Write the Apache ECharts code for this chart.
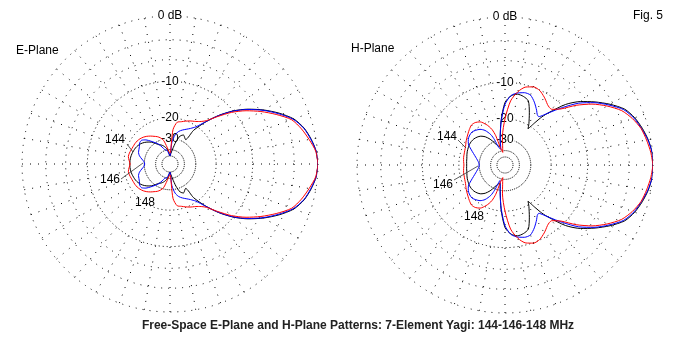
<!DOCTYPE html>
<html>
<head>
<meta charset="utf-8">
<script src="https://cdn.jsdelivr.net/npm/echarts@6/dist/echarts.min.js"></script>
<style>
  html, body { margin: 0; padding: 0; background: #fff; }
  #main { width: 680px; height: 350px; }
</style>
</head>
<body>
<div id="main"></div>
<script>
// azimuth in degrees (0 = forward, counter-clockwise), gain in dB
// patterns are symmetric, only 0..180 is listed
const eAngles = [0, 5, 10, 15, 20, 25, 30, 35, 40, 45, 50, 55, 57.5, 60, 65, 70, 75, 80, 85, 90,
  95, 100, 105, 110, 115, 120, 125, 130, 135, 140, 145, 150, 155, 160, 165, 170, 175, 180];
const e144 = [0, -0.15, -0.55, -1.1, -2.0, -3.55, -5.4, -7.5, -10.0, -13.2, -17.2, -22, -28, -27.5, -26.3, -27.5, -32, -39, -45, -50,
  -45, -40, -37, -35, -33.5, -32.5, -30.5, -28.3, -26.8, -25.5, -24.5, -23.8, -23.3, -23, -22.7, -22.5, -22.4, -22.4];
const e146 = [0, -0.15, -0.6, -1.15, -2.1, -3.7, -5.5, -7.6, -10.1, -13.3, -17.0, -20.3, -21.2, -22, -23.2, -24.2, -25.4, -27.6, -33, -50,
  -47, -42, -40, -39, -35.5, -32, -29.8, -27.5, -25.2, -23.8, -23.8, -24.6, -25.1, -25.5, -26.5, -28.2, -29.8, -30.3];
const e148 = [0, -0.2, -0.8, -1.45, -2.3, -4.0, -5.9, -8.0, -10.5, -13.6, -16.5, -18.0, -18.5, -18.9, -19.5, -20.2, -20.9, -21.4, -25, -45,
  -42, -37, -31, -28.7, -27.3, -26.3, -25.2, -24.2, -23.4, -22.8, -22.4, -22.2, -22.1, -21.9, -21.6, -21.5, -22, -22.5];

const hAngles = [0, 5, 10, 15, 20, 25, 30, 35, 40, 45, 50, 52.5, 55, 57.5, 60, 65, 70, 75, 80, 85, 90, 95, 100, 105,
  107.5, 110, 112.5, 115, 120, 125, 130, 135, 140, 145, 150, 155, 160, 165, 170, 175, 180];
const h144 = [0, -0.05, -0.3, -0.7, -1.2, -1.95, -3.4, -5.1, -6.95, -9.4, -13.2, -15.3, -18.3, -21.3, -19.4, -16.2, -13.3, -12.6, -12.4, -13.0, -14.8, -20.5, -29, -35.5,
  -35, -34, -33, -31, -27.5, -25, -23.5, -22.7, -22.2, -22.0, -22.0, -22.2, -22.4, -22.7, -23.0, -23.1, -23.2];
const h146 = [0, -0.05, -0.35, -0.8, -1.3, -2.1, -3.6, -5.3, -7.4, -10.3, -13.3, -14.7, -15.8, -15.5, -14.6, -13.0, -11.8, -11.7, -12.1, -12.9, -15.3, -21, -28.5, -38,
  -38, -35, -29, -25.5, -22.5, -21, -20.3, -19.8, -20, -20.5, -21.5, -23.5, -25.5, -27.2, -28.6, -29.6, -30];
const h148 = [0, -0.2, -0.5, -0.85, -1.5, -2.4, -3.9, -5.7, -8.0, -10.7, -12.2, -12.2, -11.9, -11.4, -10.9, -10.1, -9.9, -10.4, -11.8, -14.3, -20, -28, -42, -36,
  -27, -23.5, -21.8, -20.5, -18.7, -18.0, -17.9, -18.5, -19.2, -19.8, -20.4, -21, -21.3, -21.5, -21.6, -21.8, -22];

const labelDb = [0, -10, -20, -30];
const labelText = ['0 dB', '-10', '-20', '-30'];
const outerRings = [0, -3, -6];
const midRings = [-10, -20];
const innerRings = [-30, -40, -50];

const FONT = '"Liberation Sans", Arial, sans-serif';

// ARRL log scale: radius shrinks by 0.89 every 2 dB
function arrl(db) {
  return Math.pow(0.89, -db / 2);
}

function pattern(angles, vals) {
  const pts = angles.map((a, i) => [arrl(vals[i]), a]);
  for (let i = angles.length - 2; i >= 0; i--) {
    pts.push([arrl(vals[i]), 360 - angles[i]]);
  }
  return pts;
}

const hidden = {
  axisLine: { show: false },
  axisTick: { show: false },
  axisLabel: { show: false },
  splitLine: { show: false }
};

const polar = [];
const angleAxis = [];
const radiusAxis = [];
const series = [];

function addPlot(center, angles, s144, s146, s148) {
  const base = polar.length;
  // 0: outer rings + dB labels (radius axis pointing up)
  polar.push({ center: center, radius: 148 });
  angleAxis.push(Object.assign({ polarIndex: base, type: 'value', min: 0, max: 360, startAngle: 90 }, hidden));
  radiusAxis.push({
    polarIndex: base, type: 'value', min: 0, max: 1, z: 1,
    axisLine: { show: false },
    axisTick: { show: false, customValues: outerRings.map(arrl) },
    splitLine: { show: true, lineStyle: { color: '#000', width: 1, type: [1, 6] } },
    axisLabel: {
      show: true,
      customValues: labelDb.map(arrl),
      margin: 0,
      align: 'center',
      verticalAlign: 'middle',
      color: '#000',
      fontSize: 12,
      fontFamily: FONT,
      backgroundColor: '#fff',
      padding: [0, 1],
      formatter: function (v) {
        for (let i = 0; i < labelDb.length; i++) {
          if (Math.abs(arrl(labelDb[i]) - v) < 1e-6) return labelText[i];
        }
        return '';
      }
    }
  });
  // 1: middle rings
  polar.push({ center: center, radius: 148 });
  angleAxis.push(Object.assign({ polarIndex: base + 1, type: 'value', min: 0, max: 360, startAngle: 0, clockwise: false }, hidden));
  radiusAxis.push({
    polarIndex: base + 1, type: 'value', min: 0, max: 1,
    axisLine: { show: false },
    axisLabel: { show: false },
    axisTick: { show: false, customValues: midRings.map(arrl) },
    splitLine: { show: true, lineStyle: { color: '#000', width: 1, type: [1, 3] } }
  });
  // 2: inner rings + patterns
  polar.push({ center: center, radius: 148 });
  angleAxis.push(Object.assign({ polarIndex: base + 2, type: 'value', min: 0, max: 360, startAngle: 0, clockwise: false }, hidden));
  radiusAxis.push({
    polarIndex: base + 2, type: 'value', min: 0, max: 1,
    axisLine: { show: false },
    axisLabel: { show: false },
    axisTick: { show: false, customValues: innerRings.map(arrl) },
    splitLine: { show: true, lineStyle: { color: '#000', width: 1, type: [1, 1] } }
  });
  // 3: radial lines every 10 degrees, outside the -20 dB ring
  polar.push({ center: center, radius: [46, 148] });
  angleAxis.push({
    polarIndex: base + 3, type: 'value', min: 0, max: 360, interval: 10, startAngle: 0, clockwise: false, z: 0,
    axisLine: { show: false },
    axisTick: { show: false },
    axisLabel: { show: false },
    splitLine: { show: true, lineStyle: { color: '#000', width: 1, type: [1, 7] } }
  });
  radiusAxis.push(Object.assign({ polarIndex: base + 3, type: 'value', min: 0.31, max: 1 }, hidden));

  const sets = [[s144, '#000000'], [s146, '#0000ff'], [s148, '#ff0000']];
  sets.forEach(function (s) {
    series.push({
      type: 'line',
      coordinateSystem: 'polar',
      polarIndex: base + 2,
      data: pattern(angles, s[0]),
      symbol: 'none',
      smooth: 0.25,
      silent: true,
      z: 2,
      lineStyle: { color: s[1], width: 1 },
      itemStyle: { color: s[1] }
    });
  });
}

addPlot([170, 164], eAngles, e144, e146, e148);
addPlot([505, 165], hAngles, h144, h146, h148);

function txt(x, y, text, align, font) {
  return {
    type: 'text', x: x, y: y, z: 10,
    style: { text: text, fill: '#000', font: font || ('12px ' + FONT), align: align || 'center', verticalAlign: 'middle' }
  };
}
function seg(x1, y1, x2, y2) {
  return {
    type: 'line', z: 10,
    shape: { x1: x1, y1: y1, x2: x2, y2: y2 },
    style: { stroke: '#333', lineWidth: 0.8 }
  };
}

const chart = echarts.init(document.getElementById('main'));
chart.setOption({
  animation: false,
  backgroundColor: '#fff',
  polar: polar,
  angleAxis: angleAxis,
  radiusAxis: radiusAxis,
  series: series,
  graphic: [
    txt(16, 51, 'E-Plane', 'left'),
    txt(351, 49, 'H-Plane', 'left'),
    txt(633, 16, 'Fig. 5', 'left'),
    txt(115, 140, '144'),
    txt(110, 180, '146'),
    txt(145, 203, '148'),
    txt(447, 137, '144'),
    txt(443, 185, '146'),
    txt(474, 217, '148'),
    seg(127, 144, 133, 152),
    seg(121, 179, 143, 163),
    seg(458, 140, 466, 148),
    seg(454, 180, 478, 166),
    {
      type: 'text', x: 358, y: 326, z: 10,
      style: {
        text: 'Free-Space E-Plane and H-Plane Patterns: 7-Element Yagi: 144-146-148 MHz',
        fill: '#222', font: 'bold 12px ' + FONT, align: 'center', verticalAlign: 'middle'
      }
    }
  ]
});
</script>
</body>
</html>
